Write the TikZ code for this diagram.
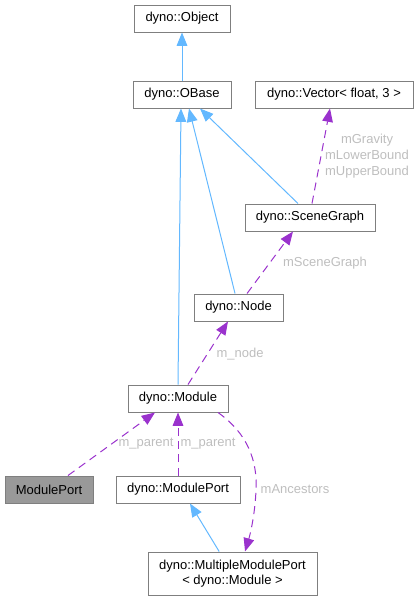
\documentclass[tikz,border=0pt]{standalone}
\usepackage{fontspec}
\setmainfont{Liberation Sans}
\usetikzlibrary{arrows.meta}
\definecolor{inhblue}{HTML}{63B8FF}
\definecolor{usepurple}{HTML}{9A32CD}
\definecolor{lblgray}{HTML}{BEBEBE}
\definecolor{boxgray}{HTML}{7F7F7F}
\begin{document}
\begin{tikzpicture}[x=0.75pt,y=-0.75pt,
		font=\fontsize{9.75}{12}\selectfont,
		cls/.style={draw=boxgray, line width=0.75pt, fill=white, inner sep=0pt, minimum height=20.25pt},
		cur/.style={cls, fill=black!40},
		inh/.style={draw=inhblue, line width=0.75pt, -{Triangle[length=10pt,width=8pt]}},
		use/.style={draw=usepurple, line width=0.75pt, dashed, dash pattern=on 6pt off 4pt, -{Triangle[length=10pt,width=8pt]}},
		lbl/.style={text=lblgray, inner sep=0pt, align=center}]
		\useasboundingbox (0,0) rectangle (419,600);
		% classes
		\node[cls, minimum width=72pt] (object) at (182,18.5) {dyno::Object};
		\node[cls, minimum width=73.5pt] (obase) at (182,94.5) {dyno::OBase};
		\node[cls, minimum width=118.5pt] (vector) at (334,94.5) {dyno::Vector< float, 3 >};
		\node[cls, minimum width=97.5pt] (scenegraph) at (310,217.5) {dyno::SceneGraph};
		\node[cls, minimum width=66.75pt] (dnode) at (238.5,307.5) {dyno::Node};
		\node[cls, minimum width=75pt] (module) at (178,398.5) {dyno::Module};
		\node[cur, minimum width=66pt] (moduleport) at (49,489.5) {ModulePort};
		\node[cls, minimum width=93pt] (dmoduleport) at (178,489.5) {dyno::ModulePort};
		\node[cls, minimum width=126.75pt, minimum height=32.25pt, align=center] (multiport) at (232.5,573.5) {dyno::MultipleModulePort\\[-0.5pt]< dyno::Module >};
		% inheritance
		\draw[inh] (obase.north) -- (object.south);
		\draw[inh] (module.north) -- ([xshift=-0.75pt]obase.south);
		\draw[inh] ([xshift=-2.6pt]dnode.north) -- ([xshift=5.25pt]obase.south);
		\draw[inh] ([xshift=-9pt]scenegraph.north) -- ([xshift=13.5pt]obase.south);
		\draw[inh] ([xshift=-10pt]multiport.north) -- ([xshift=9pt]dmoduleport.south);
		% usage
		\draw[use] ([xshift=1.5pt]scenegraph.north) -- ([xshift=-3pt]vector.south);
		\draw[use] ([xshift=6.4pt]dnode.north) -- ([xshift=-12.75pt]scenegraph.south);
		\draw[use] ([xshift=7.5pt]module.north) -- ([xshift=-7.9pt]dnode.south);
		\draw[use] ([xshift=14.25pt]moduleport.north) -- ([xshift=-17.25pt]module.south);
		\draw[use] (dmoduleport.north) -- (module.south);
		\draw[use] ([xshift=30pt]module.south) .. controls (240,428) and (258,452) .. (256,490) .. controls (255,515) and (250,535) .. ([xshift=9.4pt]multiport.north);
		% labels
		\node[lbl] (lvec) at (367,156) {mGravity\\[0pt]mLowerBound\\[0pt]mUpperBound};
		\node[lbl] (lsg) at (325,263) {mSceneGraph};
		\node[lbl] (lnode) at (240,354) {m\_node};
		\node[lbl] (lpar1) at (146,444) {m\_parent};
		\node[lbl] (lpar2) at (208,444) {m\_parent};
		\node[lbl] (lanc) at (295,489) {mAncestors};
	\end{tikzpicture}
\end{document}
